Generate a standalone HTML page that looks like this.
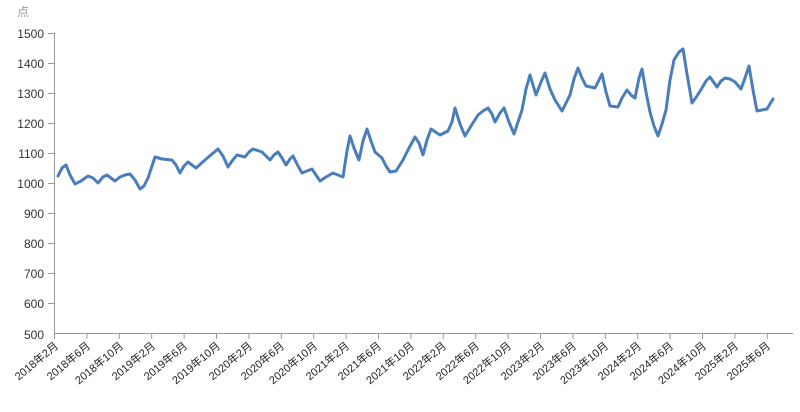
<!DOCTYPE html>
<html><head><meta charset="utf-8"><style>
body{margin:0;background:#fff;}
svg{display:block;font-family:"Liberation Sans","Noto Sans CJK SC",sans-serif;}
</style></head><body>
<svg width="800" height="412" viewBox="0 0 800 412">
<text x="17" y="16" font-size="12" fill="#999">点</text>
<g stroke="#999" stroke-width="1">
<line x1="54.5" y1="33" x2="54.5" y2="334"/>
<line x1="54" y1="333.5" x2="793" y2="333.5"/>
</g>
<g font-size="12" fill="#333" text-anchor="end">
<text x="44" y="38">1500</text><text x="44" y="68">1400</text><text x="44" y="98">1300</text><text x="44" y="128">1200</text><text x="44" y="158">1100</text><text x="44" y="188">1000</text><text x="44" y="218">900</text><text x="44" y="248">800</text><text x="44" y="278">700</text><text x="44" y="308">600</text><text x="44" y="339">500</text>
</g>
<g stroke="#999"><line x1="48" x2="54" y1="33.5" y2="33.5"/><line x1="48" x2="54" y1="63.5" y2="63.5"/><line x1="48" x2="54" y1="93.5" y2="93.5"/><line x1="48" x2="54" y1="123.5" y2="123.5"/><line x1="48" x2="54" y1="153.5" y2="153.5"/><line x1="48" x2="54" y1="183.5" y2="183.5"/><line x1="48" x2="54" y1="213.5" y2="213.5"/><line x1="48" x2="54" y1="243.5" y2="243.5"/><line x1="48" x2="54" y1="273.5" y2="273.5"/><line x1="48" x2="54" y1="303.5" y2="303.5"/></g>
<g stroke="#999">
<line x1="54.5" x2="54.5" y1="334" y2="339"/><line x1="86.9" x2="86.9" y1="334" y2="339"/><line x1="119.3" x2="119.3" y1="334" y2="339"/><line x1="151.7" x2="151.7" y1="334" y2="339"/><line x1="184.1" x2="184.1" y1="334" y2="339"/><line x1="216.5" x2="216.5" y1="334" y2="339"/><line x1="248.9" x2="248.9" y1="334" y2="339"/><line x1="281.3" x2="281.3" y1="334" y2="339"/><line x1="313.7" x2="313.7" y1="334" y2="339"/><line x1="346.1" x2="346.1" y1="334" y2="339"/><line x1="378.5" x2="378.5" y1="334" y2="339"/><line x1="410.9" x2="410.9" y1="334" y2="339"/><line x1="443.3" x2="443.3" y1="334" y2="339"/><line x1="475.7" x2="475.7" y1="334" y2="339"/><line x1="508.1" x2="508.1" y1="334" y2="339"/><line x1="540.5" x2="540.5" y1="334" y2="339"/><line x1="572.9" x2="572.9" y1="334" y2="339"/><line x1="605.3" x2="605.3" y1="334" y2="339"/><line x1="637.7" x2="637.7" y1="334" y2="339"/><line x1="670.1" x2="670.1" y1="334" y2="339"/><line x1="702.5" x2="702.5" y1="334" y2="339"/><line x1="734.9" x2="734.9" y1="334" y2="339"/><line x1="767.3" x2="767.3" y1="334" y2="339"/>
</g>
<g font-size="11" fill="#222" text-anchor="end">
<text transform="translate(59,347) rotate(-40)">2018年2月</text>
<text transform="translate(91,347) rotate(-40)">2018年6月</text>
<text transform="translate(124,347) rotate(-40)">2018年10月</text>
<text transform="translate(156,347) rotate(-40)">2019年2月</text>
<text transform="translate(188,347) rotate(-40)">2019年6月</text>
<text transform="translate(221,347) rotate(-40)">2019年10月</text>
<text transform="translate(253,347) rotate(-40)">2020年2月</text>
<text transform="translate(285,347) rotate(-40)">2020年6月</text>
<text transform="translate(318,347) rotate(-40)">2020年10月</text>
<text transform="translate(350,347) rotate(-40)">2021年2月</text>
<text transform="translate(382,347) rotate(-40)">2021年6月</text>
<text transform="translate(415,347) rotate(-40)">2021年10月</text>
<text transform="translate(447,347) rotate(-40)">2022年2月</text>
<text transform="translate(480,347) rotate(-40)">2022年6月</text>
<text transform="translate(512,347) rotate(-40)">2022年10月</text>
<text transform="translate(545,347) rotate(-40)">2023年2月</text>
<text transform="translate(577,347) rotate(-40)">2023年6月</text>
<text transform="translate(609,347) rotate(-40)">2023年10月</text>
<text transform="translate(642,347) rotate(-40)">2024年2月</text>
<text transform="translate(674,347) rotate(-40)">2024年6月</text>
<text transform="translate(707,347) rotate(-40)">2024年10月</text>
<text transform="translate(739,347) rotate(-40)">2025年2月</text>
<text transform="translate(771,347) rotate(-40)">2025年6月</text>
</g>
<polyline fill="none" stroke="#4a7ebb" stroke-width="3" stroke-linejoin="round" stroke-linecap="round" points="58,176 62,168 66,165 70,175 75,184 81,181 88,176 93,178 98,183 103,177 107,175 111,178 115,181 120,177 125,175 130,174 135,180 140,189 144,186 148,178 152,166 155,157 162,159 172,160 176,165 180,173 184,166 188,162 196,168 205,160 212,154 218,149 223,156 228,167 232,161 237,155 245,157 249,152 253,149 262,152 266,156 270,160 274,155 278,152 282,158 286,165 290,159 293,156 298,166 302,173 307,171 312,169 316,175 320,181 326,177 333,173 338,175 343,177 347,151 350,136 354,148 359,160 363,141 367,129 371,141 375,152 382,158 386,166 390,172 396,171 403,160 408,150 415,137 419,143 423,155 427,140 431,129 440,135 448,131 452,122 455,108 460,124 465,136 471,126 478,115 483,111 488,108 492,114 495,122 500,113 504,108 509,122 514,134 518,122 522,110 526,89 530,75 533,85 536,95 541,82 545,73 550,89 555,100 562,111 566,103 570,95 574,79 578,68 582,78 586,86 595,88 599,80 602,74 606,92 610,106 618,107 622,98 627,90 631,95 635,98 639,78 642,69 646,92 650,112 654,126 658,136 662,124 666,110 670,80 674,60 679,52 683,49 687,74 692,103 697,96 702,88 706,81 710,77 717,87 721,81 725,78 730,79 735,82 741,89 745,78 749,66 753,90 757,111 762,110 767,109 770,104 773,99"/>
</svg>
</body></html>
